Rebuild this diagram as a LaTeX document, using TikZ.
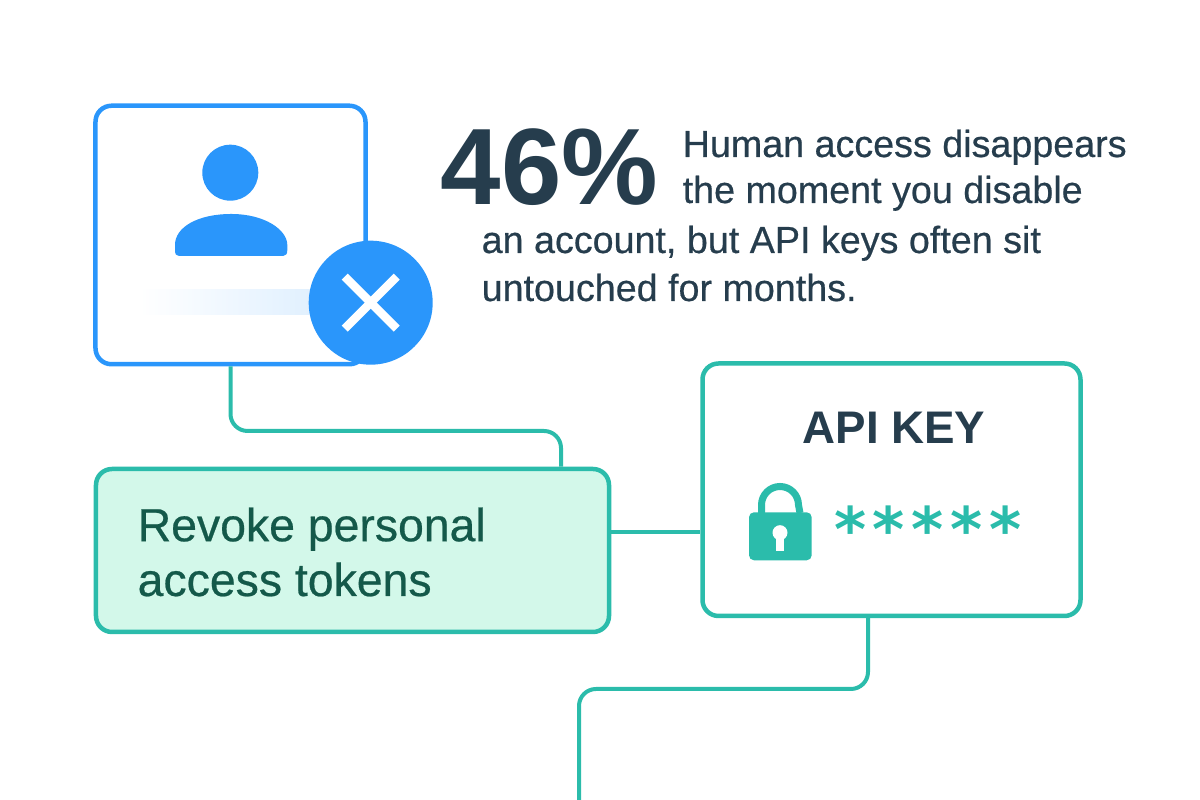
\documentclass[tikz,border=0pt]{standalone}
\usepackage{fontspec}
\usepackage{xcolor}
\setmainfont{Liberation Sans}
\newfontfamily\medfont[RawFeature={embolden=0.5}]{Liberation Sans}
\newfontfamily\starfont[LetterSpace=11]{DejaVu Sans}
\usetikzlibrary{positioning,calc}
\definecolor{keyteal}{HTML}{2BBCAB}
\definecolor{userblue}{HTML}{2A96FB}
\definecolor{mintfill}{HTML}{D3F8EA}
\definecolor{inkdark}{HTML}{263D4D}
\definecolor{inkgreen}{HTML}{14594A}
\tikzset{
	cardbox/.style={draw,line width=.045cm,rounded corners=.16cm,inner sep=0pt},
	conn/.style={draw=keyteal,line width=.04cm,rounded corners=.17cm},
	bodytext/.style={anchor=base west,inkdark,inner sep=0pt,font=\medfont\fontsize{10.72}{13.3}\selectfont},
	tokentext/.style={anchor=base west,inkgreen,inner sep=0pt,align=left,font=\medfont\fontsize{13.2}{15.6}\selectfont}
}
\begin{document}
\begin{tikzpicture}
	\useasboundingbox (0,0) rectangle (12,8);
	% boxes
	\node[cardbox,draw=userblue,fill=white,minimum width=2.7cm,minimum height=2.585cm] (user) at (2.305,5.65) {};
	\node[cardbox,draw=keyteal,fill=mintfill,minimum width=5.13cm,minimum height=1.63cm] (revoke) at (3.525,2.495) {};
	\node[cardbox,draw=keyteal,fill=white,minimum width=3.78cm,minimum height=2.525cm] (apikey) at (8.915,3.1025) {};
	% user
	\fill[left color=white,right color=userblue!15] (1.4,4.85) rectangle (3.2,5.1);
	\node[circle,fill=userblue,minimum size=.56cm,inner sep=0pt] (head) at (2.303,6.273) {};
	\fill[userblue] (1.75,5.55) .. controls (1.75,5.73) and (1.98,5.86) .. (2.313,5.86) .. controls (2.65,5.86) and (2.873,5.7) .. (2.873,5.55) -- (2.873,5.5) .. controls (2.873,5.46) and (2.86,5.44) .. (2.83,5.44) -- (1.79,5.44) .. controls (1.76,5.44) and (1.75,5.46) .. (1.75,5.5) -- cycle;
	\node[circle,fill=userblue,minimum size=1.24cm,inner sep=0pt] (badge) at (3.707,4.973) {};
	\draw[white,line width=.085cm] ([shift={(-.26,.26)}]badge.center) -- ([shift={(.26,-.26)}]badge.center);
	\draw[white,line width=.085cm] ([shift={(-.26,-.26)}]badge.center) -- ([shift={(.26,.26)}]badge.center);
	% text
	\node[anchor=base west,inkdark,inner sep=0pt,font=\fontsize{30.9}{32}\selectfont\bfseries] (pct) at (4.4,5.95) {46\%};
	\node[bodytext] (lead) at (6.82,6.43) {Human access disappears};
	\node[bodytext] (leadb) at (6.82,5.97) {the moment you disable};
	\node[bodytext] (rest) at (4.81,5.47) {an account, but API keys often sit};
	\node[bodytext] (restb) at (4.81,4.99) {untouched for months.};
	\node[tokentext] (token) at (1.37,2.04) {Revoke personal\\access tokens};
	% api key
	\node[inkdark,inner sep=0pt,font=\fontsize{13}{16}\selectfont\bfseries] (keytitle) at (8.94,3.72) {API KEY};
	\draw[keyteal,line width=.07cm] (7.615,2.87) -- (7.615,2.95) arc (180:0:.185) -- (8.0,2.87);
	\fill[keyteal,rounded corners=.05cm] (7.49,2.397) rectangle (8.117,2.877);
	\fill[white] (7.8,2.673) circle (.075);
	\fill[white] (7.757,2.49) rectangle (7.843,2.67);
	\node[keyteal,inner sep=0pt,font=\starfont\bfseries\fontsize{17.5}{20}\selectfont] (stars) at (9.28,2.715) {*****};
	% connectors
	\coordinate (elbowa) at (4,3.69);
	\coordinate (elbowb) at (7,1.11);
	\coordinate (tail) at (5.79,0);
	\draw[conn] (user.south) |- (elbowa) -| ([xshift=2.085cm]revoke.north);
	\draw[conn] ([yshift=.185cm]revoke.east) -- ([yshift=.185cm]revoke.east -| apikey.west);
	\draw[conn] ([xshift=-.235cm]apikey.south) |- (elbowb) -| (tail);
\end{tikzpicture}
\end{document}
